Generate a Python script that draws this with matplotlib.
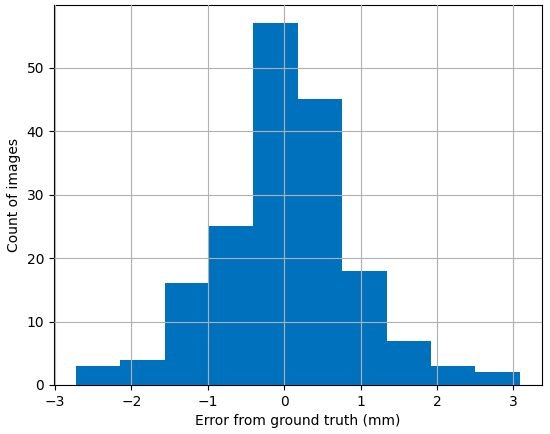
import numpy as np
import matplotlib
matplotlib.use("Agg")
import matplotlib.pyplot as plt

# histogram
bin_edges = np.linspace(-2.725, 3.08, 11)
counts = [3, 4, 16, 25, 57, 45, 18, 7, 3, 2]

fig, ax = plt.subplots(figsize=(5.5, 4.34), dpi=100)
fig.subplots_adjust(left=0.098, right=0.985, top=0.988, bottom=0.113)

ax.hist(bin_edges[:-1], bins=bin_edges, weights=counts, color="#0072bd", zorder=2)
ax.grid(True, color="#b0b0b0", linewidth=0.8, zorder=3)
ax.set_axisbelow(False)
ax.set_xlabel("Error from ground truth (mm)")
ax.set_ylabel("Count of images")

fig.savefig("out.png")
